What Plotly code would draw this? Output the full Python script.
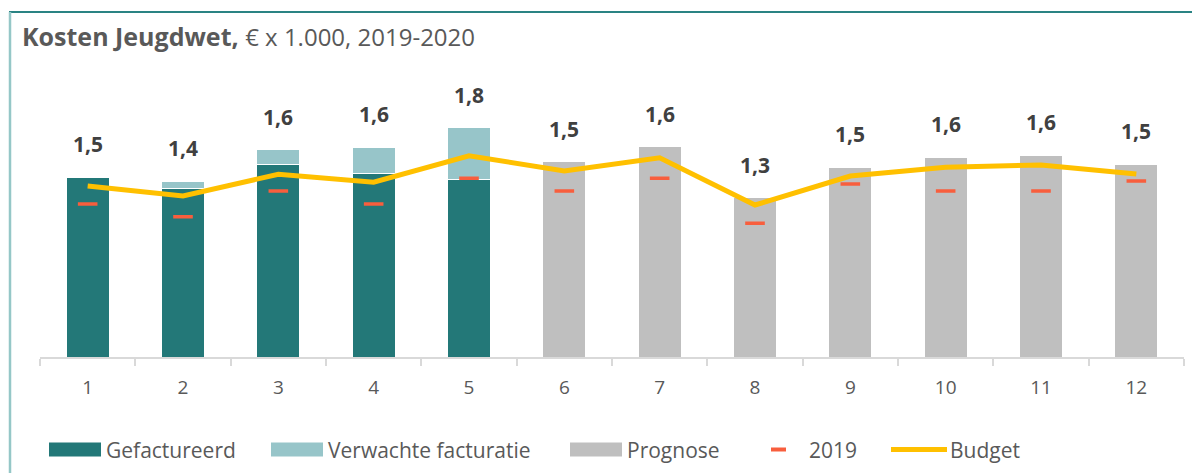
import plotly.graph_objects as go

# ---- data (k€) ----
months = [str(i) for i in range(1, 13)]
gefactureerd = [1440, 1352, 1539, 1472, 1422, None, None, None, None, None, None, None]
verwachte = [None, 56, 120, 206, 414, None, None, None, None, None, None, None]
prognose = [None, None, None, None, None, 1563, 1683, 1275, 1518, 1598, 1614, 1542]
budget = [1368, 1288, 1462, 1398, 1610, 1488, 1594, 1216, 1448, 1518, 1536, 1464]
y2019 = [1224, 1122, 1328, 1224, 1430, 1328, 1430, 1070, 1384, 1328, 1328, 1408]
labels = ["1,5", "1,4", "1,6", "1,6", "1,8", "1,5", "1,6", "1,3", "1,5", "1,6", "1,6", "1,5"]

C_GEF = "#237878"
C_VER = "#97C5C9"
C_PRO = "#BFBFBF"
C_2019 = "#F85E3D"
C_BUD = "#FFC000"
TXT = "#595959"
FONT = "Open Sans"

# page body has an 8px margin; work in page pixels and convert
OFF = 8
W, H = 1200 - OFF, 473 - OFF
ML, MR, MT, MB = 40 - OFF, 16, 60 - OFF, 116

fig = go.Figure()
bar_line = dict(color="white", width=1)
fig.add_trace(go.Bar(x=months, y=gefactureerd, name="Gefactureerd", marker=dict(color=C_GEF, line=bar_line), width=0.45))
fig.add_trace(go.Bar(x=months, y=verwachte, name="Verwachte facturatie", marker=dict(color=C_VER, line=bar_line), width=0.45))
fig.add_trace(go.Bar(x=months, y=prognose, name="Prognose", marker=dict(color=C_PRO, line=bar_line), width=0.45))
fig.add_trace(go.Scatter(x=months, y=budget, name="Budget", mode="lines",
                         line=dict(color=C_BUD, width=5)))
fig.add_trace(go.Scatter(x=months, y=y2019, name="2019", mode="markers",
                         marker=dict(symbol="line-ew", size=14, line=dict(color=C_2019, width=3.5))))

# data labels above stacked totals (x given as category index)
for i, (g, v, p, lab) in enumerate(zip(gefactureerd, verwachte, prognose, labels)):
    total = (g or 0) + (v or 0) + (p or 0)
    fig.add_annotation(x=i, y=total, text=f"<b>{lab}</b>", showarrow=False,
                       yanchor="middle", yshift=33,
                       font=dict(family=FONT, size=21, color="#404040"))

pw = W - ML - MR
ph = H - MT - MB
def px2x(px):
    return (px - OFF - ML) / pw
def py2y(py):
    return (H - MB - (py - OFF)) / ph

shapes = []
# chart frame (top and left edges)
shapes.append(dict(type="line", xref="paper", yref="paper", x0=px2x(9), x1=px2x(1200),
                   y0=py2y(12), y1=py2y(12), line=dict(color="#2A8383", width=2)))
shapes.append(dict(type="line", xref="paper", yref="paper", x0=px2x(10), x1=px2x(10),
                   y0=py2y(12), y1=py2y(473), line=dict(color="#95C7C7", width=2.5)))

# manual legend
legend_y = 449.5
leg_items = [
    ("Gefactureerd", C_GEF, "box", 49, 101, 104),
    ("Verwachte facturatie", C_VER, "box", 271, 323, 326),
    ("Prognose", C_PRO, "box", 570, 622, 625),
    ("2019", C_2019, "dash", 771, 786, 807),
    ("Budget", C_BUD, "line", 891, 947, 948),
]
for name, col, kind, x0, x1, tx in leg_items:
    if kind == "box":
        shapes.append(dict(type="rect", xref="paper", yref="paper", x0=px2x(x0), x1=px2x(x1),
                           y0=py2y(legend_y + 7), y1=py2y(legend_y - 7), fillcolor=col, line=dict(width=0)))
    elif kind == "dash":
        shapes.append(dict(type="line", xref="paper", yref="paper", x0=px2x(x0), x1=px2x(x1),
                           y0=py2y(legend_y), y1=py2y(legend_y), line=dict(color=col, width=4)))
    else:
        shapes.append(dict(type="line", xref="paper", yref="paper", x0=px2x(x0), x1=px2x(x1),
                           y0=py2y(legend_y), y1=py2y(legend_y), line=dict(color=col, width=5)))
    fig.add_annotation(xref="paper", yref="paper", x=px2x(tx), y=py2y(legend_y), text=name,
                       showarrow=False, xanchor="left", yanchor="middle",
                       font=dict(family=FONT, size=21, color=TXT))

# title
fig.add_annotation(xref="paper", yref="paper", x=px2x(20), y=py2y(36),
                   text="<b>Kosten Jeugdwet,</b> <span style='font-size:24px'>€ x 1.000, 2019-2020</span>",
                   showarrow=False, xanchor="left", yanchor="middle",
                   font=dict(family=FONT, size=25, color=TXT))

fig.update_layout(
    width=W, height=H,
    margin=dict(l=ML, r=MR, t=MT, b=MB, pad=0),
    paper_bgcolor="white", plot_bgcolor="white",
    barmode="stack",
    showlegend=False,
    shapes=shapes,
    xaxis=dict(type="category", range=[-0.5, 11.5], showgrid=False, showline=True,
               linecolor="#D9D9D9", linewidth=2,
               ticks="outside", tickson="boundaries", ticklen=7, tickwidth=2, tickcolor="#D9D9D9",
               ticklabelstandoff=12,
               tickfont=dict(family=FONT, size=19, color=TXT), fixedrange=True),
    yaxis=dict(range=[0, ph * 8], visible=False, showgrid=False, zeroline=False, fixedrange=True),
)

fig.write_html("out.html", config={"displayModeBar": False})
